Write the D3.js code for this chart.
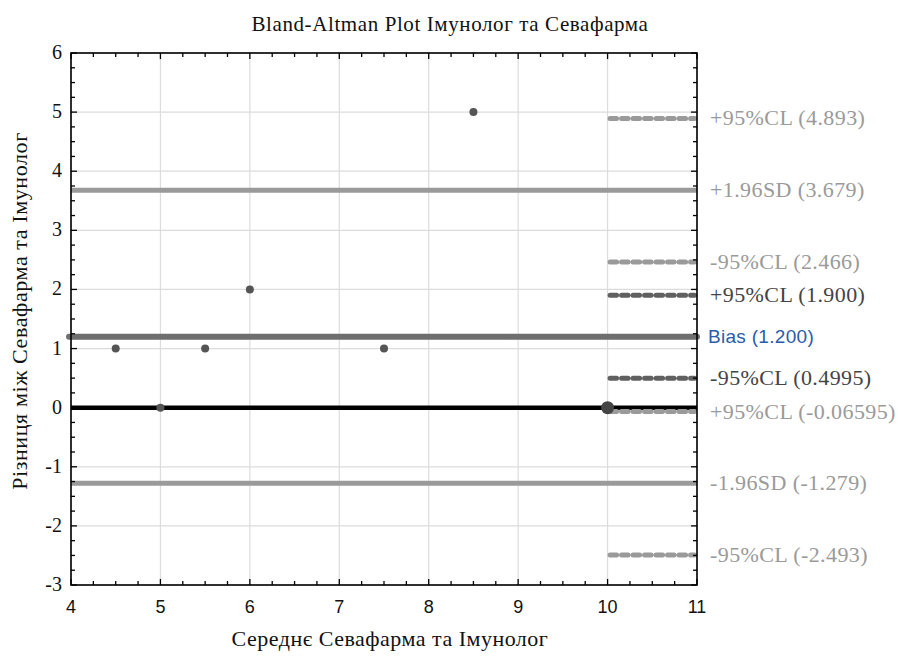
<!DOCTYPE html>
<html><head><meta charset="utf-8">
<script src="https://cdn.jsdelivr.net/npm/d3@7"></script>
<style>body{margin:0;background:#fff}</style>
</head><body>
<svg id="c" width="898" height="657"></svg>
<script>
const title = "Bland-Altman Plot Імунолог та Севафарма";
const xTitle = "Середнє Севафарма та Імунолог";
const yTitle = "Різниця між Севафарма та Імунолог";
const xTicks = [4,5,6,7,8,9,10,11];
const yTicks = [-3,-2,-1,0,1,2,3,4,5,6];
const pointX = [4.5, 5, 5.5, 6, 7.5, 8.5];
const pointY = [1, 0, 1, 2, 1, 5];
const bigPointX = [10];
const bigPointY = [0];
const biasValue = 1.2;
const biasLabel = "Bias (1.200)";
const sdValues = [3.679, -1.279];
const sdLabels = ["+1.96SD (3.679)", "-1.96SD (-1.279)"];
const biasCiValues = [1.900, 0.4995];
const biasCiLabels = ["+95%CL (1.900)", "-95%CL (0.4995)"];
const sdCiValues = [4.893, 2.466, -0.06595, -2.493];
const sdCiLabels = ["+95%CL (4.893)", "-95%CL (2.466)", "+95%CL (-0.06595)", "-95%CL (-2.493)"];
const ciRange = [10, 11];

const svg = d3.select("#c");
const m = {l:71, r:697, t:53, b:585};
const x = d3.scaleLinear().domain([4,11]).range([m.l, m.r]);
const y = d3.scaleLinear().domain([-3,6]).range([m.b, m.t]);
const serif = "'Liberation Serif', 'DejaVu Serif', serif";
const sans = "'Liberation Sans', Arial, sans-serif";
const light = "#9a9a9a", dark = "#606060";

// grid
svg.append("g").selectAll("line").data(xTicks).join("line")
  .attr("x1", d=>x(d)).attr("x2", d=>x(d)).attr("y1", m.t).attr("y2", m.b)
  .attr("stroke", "#dcdcdc").attr("stroke-width", 1.2);
svg.append("g").selectAll("line").data(yTicks).join("line")
  .attr("y1", d=>y(d)).attr("y2", d=>y(d)).attr("x1", m.l).attr("x2", m.r)
  .attr("stroke", "#dcdcdc").attr("stroke-width", 1.2);

// zero line
svg.append("line").attr("x1", m.l).attr("x2", m.r).attr("y1", y(0)).attr("y2", y(0))
  .attr("stroke", "#000").attr("stroke-width", 4.5);

// SD lines
svg.append("g").selectAll("line").data(sdValues).join("line")
  .attr("x1", m.l).attr("x2", m.r).attr("y1", d=>y(d)).attr("y2", d=>y(d))
  .attr("stroke", light).attr("stroke-width", 5);
// bias
svg.append("line").attr("x1", m.l-2).attr("x2", m.r).attr("y1", y(biasValue)).attr("y2", y(biasValue))
  .attr("stroke", "#6e6e6e").attr("stroke-width", 6).attr("stroke-linecap","round");

// CI dashed
function dashed(vals, col){
  svg.append("g").selectAll("line").data(vals).join("line")
    .attr("x1", x(ciRange[0])+2.5).attr("x2", x(ciRange[1])-2.5).attr("y1", d=>y(d)).attr("y2", d=>y(d))
    .attr("stroke", col).attr("stroke-width", 5).attr("stroke-linecap","round")
    .attr("stroke-dasharray", "6.5,5");
}
dashed(sdCiValues, light);
dashed(biasCiValues, dark);

// points
svg.append("g").selectAll("circle").data(pointX).join("circle")
  .attr("cx", (d)=>x(d)).attr("cy", (d,i)=>y(pointY[i])).attr("r", 4).attr("fill", "#555");
svg.append("g").selectAll("circle").data(bigPointX).join("circle")
  .attr("cx", d=>x(d)).attr("cy", (d,i)=>y(bigPointY[i])).attr("r", 6.5).attr("fill", "#444");

// frame
svg.append("rect").attr("x", m.l).attr("y", m.t).attr("width", m.r-m.l).attr("height", m.b-m.t)
  .attr("fill","none").attr("stroke","#000").attr("stroke-width",1.6);

// ticks inward, all sides
const xMinor = d3.range(4, 11.001, 0.25);
const yMinor = d3.range(-3, 6.001, 0.25);
const tk = svg.append("g").attr("stroke","#000").attr("stroke-width",1.3);
xMinor.forEach(v=>{
  const major = Math.abs(v-Math.round(v))<1e-6;
  const len = major?6:4;
  tk.append("line").attr("x1",x(v)).attr("x2",x(v)).attr("y1",m.b).attr("y2",m.b-len);
  tk.append("line").attr("x1",x(v)).attr("x2",x(v)).attr("y1",m.t).attr("y2",m.t+len);
});
yMinor.forEach(v=>{
  const major = Math.abs(v-Math.round(v))<1e-6;
  const len = major?6:4;
  tk.append("line").attr("y1",y(v)).attr("y2",y(v)).attr("x1",m.l).attr("x2",m.l+len);
  tk.append("line").attr("y1",y(v)).attr("y2",y(v)).attr("x1",m.r).attr("x2",m.r-len);
});

// tick labels
svg.append("g").selectAll("text").data(xTicks).join("text")
  .attr("x", d=>x(d)).attr("y", m.b+28).attr("text-anchor","middle")
  .attr("font-family", sans).attr("font-size", 18).attr("fill","#111").text(d=>d);
svg.append("g").selectAll("text").data(yTicks).join("text")
  .attr("x", m.l-9).attr("y", d=>y(d)+6).attr("text-anchor","end")
  .attr("font-family", serif).attr("font-size", 20).attr("fill","#111").text(d=>d);

// right labels
const lx = m.r + 13;
function labels(vals, labs, col){
  svg.append("g").selectAll("text").data(vals).join("text")
    .attr("x", lx).attr("y", d=>y(d)+7).attr("font-family", serif).attr("font-size", 22)
    .attr("letter-spacing", 0.4).attr("fill", col).text((d,i)=>labs[i]);
}
labels(sdCiValues, sdCiLabels, light);
labels(sdValues, sdLabels, light);
labels(biasCiValues, biasCiLabels, "#444");
svg.append("text").attr("x", lx-2).attr("y", y(biasValue)+6).attr("font-family", sans)
  .attr("font-size", 19).attr("letter-spacing", 0.3).attr("fill", "#2a5caa").text(biasLabel);

// titles
svg.append("text").attr("x", 450).attr("y", 31).attr("text-anchor","middle")
  .attr("font-family", serif).attr("font-size", 21).attr("letter-spacing", 0.6).attr("fill","#111").text(title);
svg.append("text").attr("x", 390).attr("y", 646).attr("text-anchor","middle")
  .attr("font-family", serif).attr("font-size", 22).attr("letter-spacing", 0.5).attr("fill","#111").text(xTitle);
svg.append("text").attr("transform", `translate(27,311) rotate(-90)`).attr("text-anchor","middle")
  .attr("font-family", serif).attr("font-size", 22).attr("letter-spacing", 0.6).attr("fill","#111").text(yTitle);
</script>
</body></html>
